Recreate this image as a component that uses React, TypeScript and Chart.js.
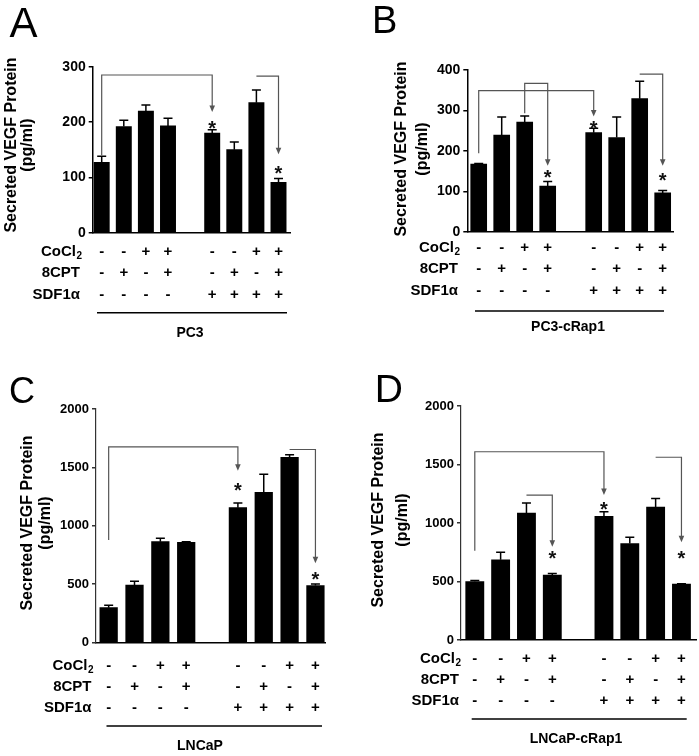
import React, { useEffect, useRef } from 'react';
import { Chart, registerables } from 'chart.js';

Chart.register(...registerables);

const FONT = '"Liberation Sans", Arial, Helvetica, sans-serif';
Chart.defaults.font.family = FONT;

// ---------- data ----------
const slots = [0, 1, 2, 3, 4, 5, 6, 7, 8]; // slot 4 is the empty gap
const cocl2 = ['-', '-', '+', '+', '', '-', '-', '+', '+'];
const cpt8 = ['-', '+', '-', '+', '', '-', '+', '-', '+'];
const sdf1a = ['-', '-', '-', '-', '', '+', '+', '+', '+'];
const yTitle = ['Secreted VEGF Protein', '(pg/ml)'];

const pc3Mean = [127, 192, 220, 193, null, 180, 150, 235, 91];
const pc3Err = [11, 11, 11, 14, null, 6, 14, 23, 7];
const pc3Rap1Mean = [167, 239, 271, 113, null, 245, 233, 329, 96];
const pc3Rap1Err = [2, 45, 15, 11, null, 11, 51, 43, 6];
const lncapMean = [297, 491, 863, 857, null, 1154, 1285, 1585, 486];
const lncapErr = [20, 32, 28, 6, null, 40, 156, 23, 14];
const lncapRap1Mean = [500, 685, 1085, 554, null, 1057, 824, 1136, 477];
const lncapRap1Err = [8, 65, 85, 14, null, 40, 54, 74, 3];

type Bracket = { from: number; to: number; top: number; start: number | null; tip: number };
type Star = { at: number; y: number };

const pc3Brackets: Bracket[] = [
  { from: 0, to: 5, top: 285, start: 140, tip: 218 },
  { from: 7, to: 8, top: 283, start: null, tip: 142 },
];
const pc3Stars: Star[] = [{ at: 5, y: 197 }, { at: 8, y: 116 }];

const pc3Rap1Brackets: Bracket[] = [
  { from: 0, to: 5, top: 349, start: 194, tip: 285 },
  { from: 2, to: 3, top: 367, start: 293, tip: 163 },
  { from: 7, to: 8, top: 390, start: null, tip: 163 },
];
const pc3Rap1Stars: Star[] = [{ at: 5, y: 268 }, { at: 3, y: 146 }, { at: 8, y: 138 }];

const lncapBrackets: Bracket[] = [
  { from: 0, to: 5, top: 1676, start: 877, tip: 1470 },
  { from: 7, to: 8, top: 1653, start: null, tip: 677 },
];
const lncapStars: Star[] = [{ at: 5, y: 1348 }, { at: 8, y: 577 }];

const lncapRap1Brackets: Bracket[] = [
  { from: 0, to: 5, top: 1609, start: 763, tip: 1239 },
  { from: 2, to: 3, top: 1239, start: null, tip: 797 },
  { from: 7, to: 8, top: 1562, start: null, tip: 835 },
];
const lncapRap1Stars: Star[] = [{ at: 5, y: 1160 }, { at: 3, y: 741 }, { at: 8, y: 741 }];

// ---------- layout / style per panel ----------
const W = 699;
const H = 756;
const Wy = 50;
const Hx = 90;
const ROW_LH = 21.2;

const panels = [
  {
    letter: 'A', letterX: 9.5, letterY: 36.7, letterSize: 42, group: 'PC3',
    mean: pc3Mean, err: pc3Err, brackets: pc3Brackets, stars: pc3Stars,
    yMax: 300, yStep: 100, area: { l: 92.7, r: 290, t: 66.7, b: 232.7 },
    xMin: -0.407, xMax: 8.52, barW: 15.3, tickFont: 14, axisColor: '#000', axisW: 1.5,
    rowPad: 8.8, rowRight: 80, titleX: [12, 27.5], titleY: 145,
    lineY: 312.7, lineX: [97, 287], groupX: 190, groupY: 333,
  },
  {
    letter: 'B', letterX: 372, letterY: 33.3, letterSize: 38, group: 'PC3-cRap1',
    mean: pc3Rap1Mean, err: pc3Rap1Err, brackets: pc3Rap1Brackets, stars: pc3Rap1Stars,
    yMax: 400, yStep: 100, area: { l: 467.3, r: 673.5, t: 70, b: 231.7 },
    xMin: -0.496, xMax: 8.47, barW: 16, tickFont: 14, axisColor: '#000', axisW: 1.5,
    rowPad: 5.8, rowRight: 458, titleX: [402, 422.5], titleY: 149,
    lineY: 311, lineX: [475, 664], groupX: 568, groupY: 326.7,
  },
  {
    letter: 'C', letterX: 9, letterY: 403, letterSize: 36, group: 'LNCaP',
    mean: lncapMean, err: lncapErr, brackets: lncapBrackets, stars: lncapStars,
    yMax: 2000, yStep: 500, area: { l: 96, r: 325, t: 409, b: 642.3 },
    xMin: -0.49, xMax: 8.37, barW: 17.6, tickFont: 13, axisColor: '#333', axisW: 1.2,
    rowPad: 12.7, rowRight: 91.5, titleX: [27.5, 46], titleY: 523,
    lineY: 726, lineX: [106.5, 322], groupX: 200, groupY: 746,
  },
  {
    letter: 'D', letterX: 374.7, letterY: 401.5, letterSize: 39, group: 'LNCaP-cRap1',
    mean: lncapRap1Mean, err: lncapRap1Err, brackets: lncapRap1Brackets, stars: lncapRap1Stars,
    yMax: 2000, yStep: 500, area: { l: 461, r: 696.7, t: 406, b: 640 },
    xMin: -0.534, xMax: 8.59, barW: 18.2, tickFont: 13, axisColor: '#333', axisW: 1.2,
    rowPad: 7.8, rowRight: 459, titleX: [379, 402.5], titleY: 520,
    lineY: 719, lineX: [471.7, 686.7], groupX: 576, groupY: 739.3,
  },
];

type PanelCfg = (typeof panels)[number];

function annotPlugin(p: PanelCfg) {
  return {
    id: 'annot' + p.letter,
    afterDatasetsDraw(chart: any) {
      const ctx = chart.ctx as CanvasRenderingContext2D;
      const xs = chart.scales.x;
      const ys = chart.scales.y;
      ctx.save();
      // error bars
      ctx.strokeStyle = '#000';
      ctx.lineWidth = 1.5;
      slots.forEach((i) => {
        const m = p.mean[i];
        const e = p.err[i];
        if (m == null || e == null) return;
        const x = xs.getPixelForValue(i);
        const y0 = ys.getPixelForValue(m);
        const y1 = ys.getPixelForValue(m + e);
        ctx.beginPath();
        ctx.moveTo(x, y0);
        ctx.lineTo(x, y1);
        ctx.moveTo(x - 4.5, y1);
        ctx.lineTo(x + 4.5, y1);
        ctx.stroke();
      });
      // significance brackets
      ctx.strokeStyle = '#555';
      ctx.fillStyle = '#555';
      ctx.lineWidth = 1.2;
      p.brackets.forEach((b) => {
        const x1 = xs.getPixelForValue(b.from);
        const x2 = xs.getPixelForValue(b.to);
        const yt = ys.getPixelForValue(b.top);
        const ytip = ys.getPixelForValue(b.tip);
        ctx.beginPath();
        if (b.start != null) {
          ctx.moveTo(x1, ys.getPixelForValue(b.start));
          ctx.lineTo(x1, yt);
        } else {
          ctx.moveTo(x1, yt);
        }
        ctx.lineTo(x2, yt);
        ctx.lineTo(x2, ytip - 5);
        ctx.stroke();
        ctx.beginPath();
        ctx.moveTo(x2 - 2.8, ytip - 6.5);
        ctx.lineTo(x2 + 2.8, ytip - 6.5);
        ctx.lineTo(x2, ytip);
        ctx.closePath();
        ctx.fill();
      });
      // stars
      ctx.fillStyle = '#111';
      ctx.font = `bold 20px ${FONT}`;
      ctx.textAlign = 'center';
      ctx.textBaseline = 'alphabetic';
      p.stars.forEach((s) => {
        const x = xs.getPixelForValue(s.at);
        const y = ys.getPixelForValue(s.y);
        ctx.fillText('*', x, y + 11.5);
      });
      ctx.restore();
    },
    afterDraw(chart: any) {
      const ctx = chart.ctx as CanvasRenderingContext2D;
      const xs = chart.scales.x;
      ctx.save();
      ctx.fillStyle = '#000';
      // row labels
      const top = xs.top + p.rowPad;
      const rowY = (k: number) => top + ROW_LH * (k + 0.5);
      ctx.textBaseline = 'middle';
      ctx.font = `bold 10px ${FONT}`;
      const subW = ctx.measureText('2').width;
      const mainRight = p.rowRight - subW + 1.5;
      ctx.font = `bold 15px ${FONT}`;
      ctx.textAlign = 'right';
      ctx.fillText('CoCl', mainRight, rowY(0));
      ctx.fillText('8CPT', p.rowRight, rowY(1));
      ctx.fillText('SDF1α', p.rowRight, rowY(2));
      ctx.font = `bold 10px ${FONT}`;
      ctx.textAlign = 'left';
      ctx.fillText('2', mainRight + 0.5, rowY(0) + 4.5);
      // y title
      ctx.font = `bold 16px ${FONT}`;
      ctx.textAlign = 'center';
      ctx.textBaseline = 'middle';
      yTitle.forEach((t, j) => {
        ctx.save();
        ctx.translate(p.titleX[j], p.titleY);
        ctx.rotate(-Math.PI / 2);
        ctx.fillText(t, 0, 0);
        ctx.restore();
      });
      // group line and label
      ctx.strokeStyle = '#000';
      ctx.lineWidth = 1.5;
      ctx.beginPath();
      ctx.moveTo(p.lineX[0], p.lineY);
      ctx.lineTo(p.lineX[1], p.lineY);
      ctx.stroke();
      ctx.font = `bold 14px ${FONT}`;
      ctx.fillText(p.group, p.groupX, p.groupY);
      // panel letter
      ctx.font = `${p.letterSize}px ${FONT}`;
      ctx.textAlign = 'left';
      ctx.textBaseline = 'alphabetic';
      ctx.fillText(p.letter, p.letterX, p.letterY);
      ctx.restore();
    },
  };
}

function Panel({ p }: { p: PanelCfg }) {
  const ref = useRef<HTMLCanvasElement | null>(null);
  useEffect(() => {
    if (!ref.current) return;
    const data = slots
      .filter((i) => p.mean[i] != null)
      .map((i) => ({ x: i, y: p.mean[i] as number }));
    const chart = new Chart(ref.current, {
      type: 'bar',
      data: {
        datasets: [
          {
            data,
            backgroundColor: '#000',
            borderWidth: 0,
            barThickness: p.barW,
          } as any,
        ],
      },
      options: {
        animation: false,
        responsive: false,
        devicePixelRatio: 1,
        layout: {
          padding: {
            left: p.area.l - Wy,
            top: p.area.t,
            right: W - p.area.r,
            bottom: H - p.area.b - Hx,
          },
        },
        plugins: { legend: { display: false }, tooltip: { enabled: false } },
        scales: {
          x: {
            type: 'linear',
            min: p.xMin,
            max: p.xMax,
            offset: false,
            bounds: 'data',
            afterBuildTicks: (s: any) => {
              s.ticks = slots.map((v) => ({ value: v }));
            },
            afterFit: (s: any) => {
              s.height = Hx;
            },
            grid: { display: false, drawTicks: false },
            border: { display: true, color: '#000', width: 1.5 },
            ticks: {
              autoSkip: false,
              maxRotation: 0,
              minRotation: 0,
              padding: p.rowPad,
              color: '#000',
              font: { family: FONT, size: 15, weight: 'bold', lineHeight: ROW_LH + 'px' },
              callback: (v: any) => {
                const i = Math.round(Number(v));
                return [cocl2[i] ?? '', cpt8[i] ?? '', sdf1a[i] ?? ''];
              },
            },
          },
          y: {
            min: 0,
            max: p.yMax,
            afterFit: (s: any) => {
              s.width = Wy;
            },
            ticks: {
              stepSize: p.yStep,
              padding: 3,
              color: '#000',
              font: { family: FONT, size: p.tickFont, weight: 'bold' },
              callback: (v: any) => String(v),
            },
            grid: {
              drawOnChartArea: false,
              drawTicks: true,
              tickLength: 4,
              color: p.axisColor,
              lineWidth: 1.5,
            },
            border: { display: true, color: p.axisColor, width: p.axisW },
          },
        },
      } as any,
      plugins: [annotPlugin(p)],
    });
    return () => chart.destroy();
  }, [p]);
  return (
    <canvas
      ref={ref}
      width={W}
      height={H}
      style={{ position: 'absolute', left: 0, top: 0, width: W, height: H }}
    />
  );
}

export default function App() {
  return (
    <div
      style={{
        position: 'fixed',
        left: 0,
        top: 0,
        width: W,
        height: H,
        background: '#fff',
        overflow: 'hidden',
      }}
    >
      {panels.map((p) => (
        <Panel key={p.letter} p={p} />
      ))}
    </div>
  );
}
